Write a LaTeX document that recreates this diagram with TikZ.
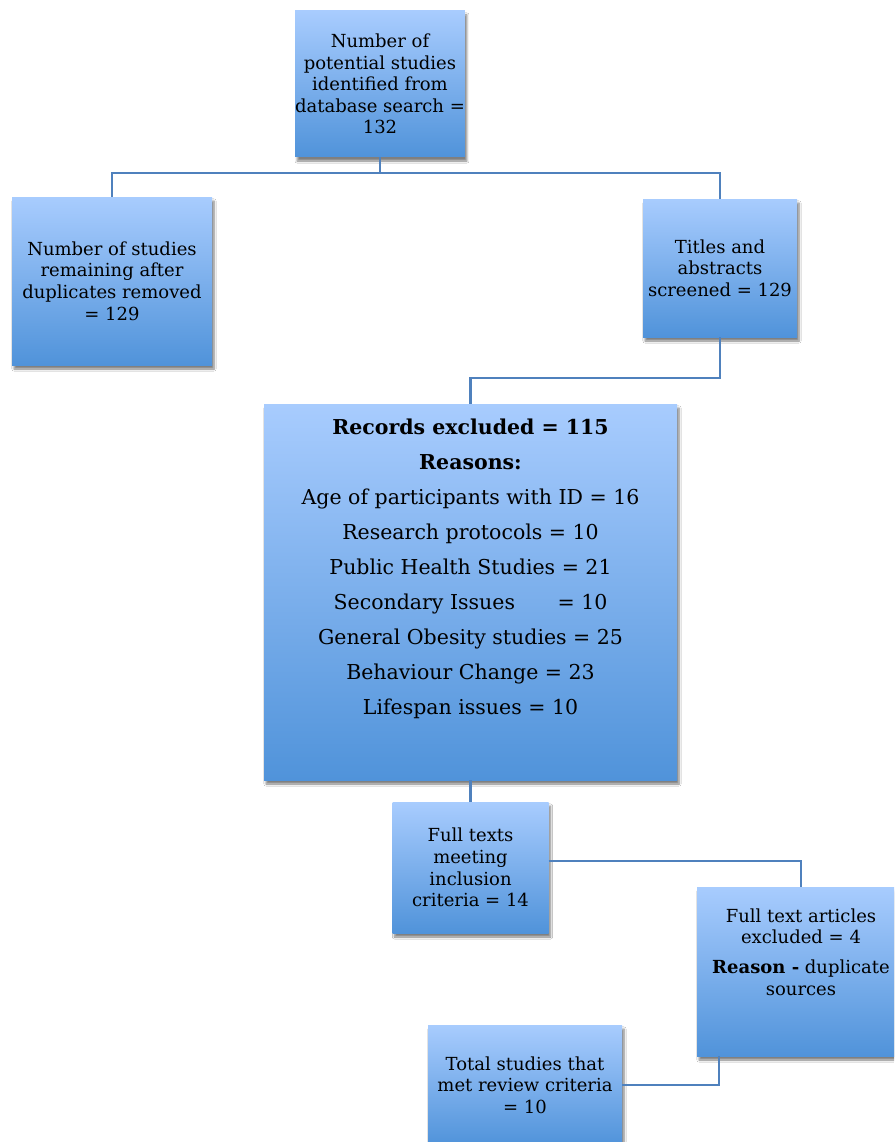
\documentclass[tikz,border=0pt]{standalone}
\usepackage{fontspec}
\setmainfont{DejaVu Serif}
\usetikzlibrary{shadows.blur,calc}
\definecolor{boxtop}{RGB}{168,204,254}
\definecolor{boxbot}{RGB}{80,147,218}
\definecolor{linkc}{RGB}{79,129,189}
\tikzset{
  flowbox/.style={rectangle, inner sep=0pt, top color=boxtop, bottom color=boxbot,
    draw=none, align=center, text=black,
    blur shadow={shadow xshift=2pt, shadow yshift=-4pt, shadow blur steps=6, shadow opacity=50},
    font=\fontsize{18}{21.6}\selectfont},
  boxtext/.style={inner sep=0pt, align=center, text=black},
  conn/.style={draw=linkc, line width=2.2pt}
}
\begin{document}
\begin{tikzpicture}[x=1pt,y=-1pt]
\useasboundingbox (0,0) rectangle (894,1142);
\clip (0,0) rectangle (894,1142);
\fill[white] (0,0) rectangle (894,1142);

% boxes
\node[flowbox, minimum width=166pt, minimum height=146pt] (top) at (380,84)
  {Number of\\potential studies\\identified from\\database search =\\132};
\node[flowbox, minimum width=200pt, minimum height=168pt] (left) at (112,281)
  {Number of studies\\remaining after\\duplicates removed\\= 129};
\node[flowbox, minimum width=154pt, minimum height=138pt] (titles) at (720,268)
  {Titles and\\abstracts\\screened = 129};
\node[flowbox, minimum width=413pt, minimum height=376pt] (big) at (470.5,592) {};
\node[boxtext, font=\fontsize{20.5}{35}\selectfont] (bigtext) at (470.5,569)
  {\textbf{Records excluded = 115}\\
   \textbf{Reasons:}\\
   Age of participants with ID = 16\\
   Research protocols = 10\\
   Public Health Studies = 21\\
   Secondary Issues\hspace{36pt} = 10\\
   General Obesity studies = 25\\
   Behaviour Change = 23\\
   Lifespan issues = 10};
\node[flowbox, minimum width=156pt, minimum height=131pt] (full) at (470.5,867.5)
  {Full texts\\meeting\\inclusion\\criteria = 14};
\node[flowbox, minimum width=208pt, minimum height=169pt] (excl) at (801,971.5) {};
\node[boxtext, font=\fontsize{18}{21.6}\selectfont] (excltext) at (801,952)
  {Full text articles\\excluded = 4\\[8pt]
   \textbf{Reason -} duplicate\\sources};
\node[flowbox, minimum width=194pt, minimum height=120pt] (total) at (525,1085)
  {Total studies that\\met review criteria\\= 10};

% connectors
\coordinate (j1) at (380,173);
\draw[conn] (top.south) -- (j1);
\draw[conn] (left.north) |- (j1) -| (titles.north);
\draw[conn] (titles.south) -- ++(0,41) -| (big.north);
\draw[conn] (big.south) -- (full.north);
\draw[conn] ([yshift=6.5pt]full.east) -| (excl.north);
\draw[conn] ([xshift=-82pt]excl.south) |- (total.east);
\end{tikzpicture}
\end{document}
